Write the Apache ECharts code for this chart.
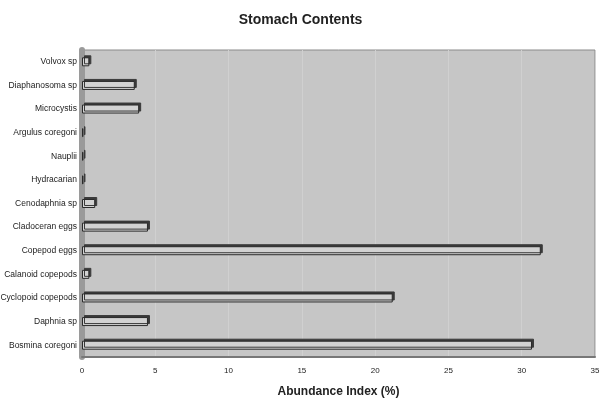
<!DOCTYPE html>
<html>
<head>
<meta charset="utf-8">
<script src="https://cdn.jsdelivr.net/npm/echarts@6/dist/echarts.min.js"></script>
<style>
  html, body { margin: 0; padding: 0; background: #fff; }
  #chart { width: 601px; height: 402px; }
</style>
</head>
<body>
<div id="chart"></div>
<script>
// categories from top to bottom
const categories = [
  'Volvox sp', 'Diaphanosoma sp', 'Microcystis', 'Argulus coregoni', 'Nauplii',
  'Hydracarian', 'Cenodaphnia sp', 'Cladoceran eggs', 'Copepod eggs',
  'Calanoid copepods', 'Cyclopoid copepods', 'Daphnia sp', 'Bosmina coregoni'
]
const abundance = [0.5, 3.6, 3.9, 0.1, 0.1, 0.1, 0.9, 4.5, 31.3, 0.5, 21.2, 4.5, 30.7]
const xTicks = [0, 5, 10, 15, 20, 25, 30, 35]

const chart = echarts.init(document.getElementById('chart'))

chart.setOption({
  animation: false,
  backgroundColor: '#ffffff',
  title: {
    text: 'Stomach Contents',
    left: 'center',
    top: 8,
    textStyle: { fontFamily: 'Liberation Sans', fontSize: 14, fontWeight: 'bold', color: '#222' }
  },
  grid: {
    left: 82, right: 6, top: 50, bottom: 45,
    outerBoundsMode: 'none',
    show: true,
    backgroundColor: '#c6c6c6',
    borderColor: '#8a8a8a',
    borderWidth: 1
  },
  xAxis: {
    type: 'value',
    min: xTicks[0],
    max: xTicks[xTicks.length - 1],
    interval: 5,
    name: 'Abundance Index (%)',
    nameLocation: 'middle',
    nameGap: 29,
    nameTextStyle: { fontFamily: 'Liberation Sans', fontSize: 12, fontWeight: 'bold', color: '#222' },
    axisLine: { show: true, lineStyle: { color: '#777', width: 2 } },
    axisTick: { show: false },
    axisLabel: { fontFamily: 'Liberation Sans', fontSize: 8, color: '#222', margin: 10 },
    splitLine: { show: true, lineStyle: { color: '#d0d0d0', width: 1 } }
  },
  yAxis: {
    type: 'category',
    data: categories,
    inverse: true,
    axisLine: { show: true, lineStyle: { color: '#9a9a9a', width: 6 } },
    axisTick: { show: false },
    axisLabel: { fontFamily: 'Liberation Sans', fontSize: 8.5, color: '#222', margin: 5 }
  },
  series: [{
    type: 'bar',
    data: abundance,
    barWidth: 9,
    itemStyle: {
      color: '#d2d2d2',
      borderColor: '#2a2a2a',
      borderWidth: 1,
      shadowColor: '#3a3a3a',
      shadowOffsetX: 2,
      shadowOffsetY: -2
    }
  }]
})
</script>
</body>
</html>
